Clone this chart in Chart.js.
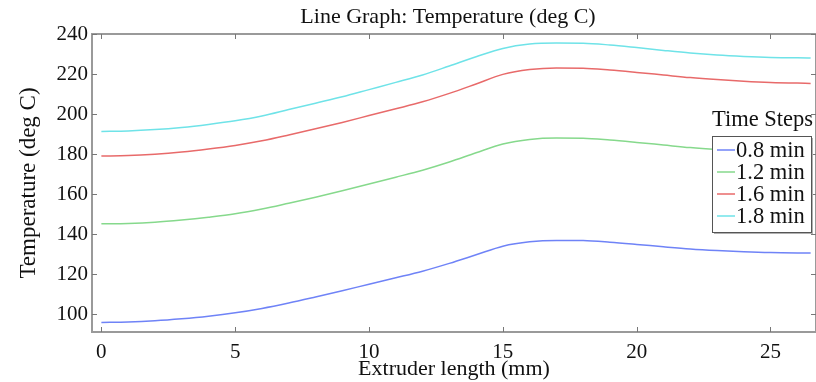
<!DOCTYPE html>
<html>
<head>
<meta charset="utf-8">
<script src="https://cdn.jsdelivr.net/npm/chart.js@4/dist/chart.umd.min.js"></script>
<style>
  html, body { margin: 0; padding: 0; background: #fff; overflow: hidden; }
  #wrap { width: 816px; height: 382px; position: relative; }
</style>
</head>
<body>
<div id="wrap"><canvas id="c" width="816" height="382"></canvas></div>
<script>
// ---- data ----
const chartTitle = 'Line Graph: Temperature (deg C)';
const xTitle = 'Extruder length (mm)';
const yTitle = 'Temperature (deg C)';
const legendTitle = 'Time Steps';
const seriesLabels = ['0.8 min', '1.2 min', '1.6 min', '1.8 min'];
const seriesColors = ['#6f83f7', '#86d98c', '#e86a6a', '#6fe3e8'];

const extruderLength = [0, 1, 2, 3, 4, 5, 6, 7, 8, 9, 10, 11, 12, 13, 14, 15, 16, 17, 18, 19, 20, 21, 22, 23, 24, 25, 26.5];
const temp08 = [95.8, 96.0, 96.6, 97.6, 98.9, 100.6, 102.8, 105.5, 108.5, 111.6, 114.9, 118.1, 121.4, 125.3, 129.6, 133.9, 136.1, 136.8, 136.7, 135.9, 134.8, 133.6, 132.5, 131.7, 131.1, 130.7, 130.5];
const temp12 = [145.1, 145.3, 145.9, 147.0, 148.4, 150.1, 152.5, 155.4, 158.4, 161.6, 165.0, 168.4, 171.9, 176.0, 180.6, 185.0, 187.3, 188.0, 187.9, 187.0, 185.8, 184.5, 183.2, 182.2, 181.4, 180.9, 180.5];
const temp16 = [179.0, 179.2, 179.9, 181.0, 182.5, 184.3, 186.6, 189.5, 192.6, 195.8, 199.2, 202.6, 206.1, 210.3, 215.0, 219.8, 222.2, 223.0, 222.9, 222.0, 220.8, 219.5, 218.2, 217.2, 216.4, 215.8, 215.3];
const temp18 = [191.3, 191.5, 192.2, 193.3, 194.8, 196.6, 199.0, 202.2, 205.4, 208.6, 212.2, 215.8, 219.5, 224.0, 228.6, 232.8, 235.0, 235.5, 235.4, 234.5, 233.2, 231.8, 230.5, 229.5, 228.8, 228.3, 228.0];
const seriesValues = [temp08, temp12, temp16, temp18];

const xTicks = [0, 5, 10, 15, 20, 25];
const yTicks = [100, 120, 140, 160, 180, 200, 220, 240];

const SERIF = '"Liberation Serif", "Times New Roman", serif';
const FRAME = '#9a9a9a';

const datasets = seriesLabels.map((lab, i) => ({
  label: lab,
  data: extruderLength.map((x, j) => ({ x: x, y: seriesValues[i][j] })),
  borderColor: seriesColors[i],
  backgroundColor: seriesColors[i],
  borderWidth: 1.5,
  pointRadius: 0,
  fill: false,
  cubicInterpolationMode: 'monotone'
}));

// frame with inward tick marks (like MATLAB axes)
const framePlugin = {
  id: 'frame',
  afterDraw(chart) {
    const ctx = chart.ctx, a = chart.chartArea;
    const xs = chart.scales.x, ys = chart.scales.y;
    ctx.save();
    ctx.strokeStyle = FRAME;
    ctx.lineWidth = 2;
    ctx.strokeRect(a.left, a.top, a.right - a.left, a.bottom - a.top);
    ctx.lineWidth = 1;
    ctx.strokeStyle = '#777';
    const tl = 5;
    xTicks.forEach(v => {
      const p = Math.round(xs.getPixelForValue(v)) + 0.5;
      ctx.beginPath();
      ctx.moveTo(p, a.bottom); ctx.lineTo(p, a.bottom - tl);
      ctx.moveTo(p, a.top); ctx.lineTo(p, a.top + tl);
      ctx.stroke();
    });
    yTicks.forEach(v => {
      const p = Math.round(ys.getPixelForValue(v)) + 0.5;
      ctx.beginPath();
      ctx.moveTo(a.left, p); ctx.lineTo(a.left + tl, p);
      ctx.moveTo(a.right, p); ctx.lineTo(a.right - tl, p);
      ctx.stroke();
    });
    ctx.restore();
  }
};

// title centred over the plot area
const titlePlugin = {
  id: 'plotTitle',
  afterDraw(chart) {
    const ctx = chart.ctx, a = chart.chartArea;
    ctx.save();
    ctx.font = '22px ' + SERIF;
    ctx.fillStyle = '#111';
    ctx.textAlign = 'center';
    ctx.textBaseline = 'middle';
    ctx.fillText(chartTitle, (a.left + a.right) / 2 - 6, 17.5);
    ctx.restore();
  }
};

// boxed legend with a title above it, drawn inside the plot area
const legendPlugin = {
  id: 'boxLegend',
  afterDraw(chart) {
    const ctx = chart.ctx;
    const bx = 712, by = 136, bw = 99, bh = 96;
    ctx.save();
    ctx.font = '22.5px ' + SERIF;
    ctx.fillStyle = '#111';
    ctx.textAlign = 'center';
    ctx.textBaseline = 'middle';
    ctx.fillText(legendTitle, bx + bw / 2 + 1, by - 16);
    // shadow
    ctx.fillStyle = '#b0b0b0';
    ctx.fillRect(bx + 2, by + 2, bw, bh);
    ctx.fillStyle = '#fff';
    ctx.fillRect(bx, by, bw, bh);
    ctx.strokeStyle = '#555';
    ctx.lineWidth = 1;
    ctx.strokeRect(bx + 0.5, by + 0.5, bw, bh);
    chart.data.datasets.forEach((ds, i) => {
      const y = by + 14 + i * 22;
      ctx.strokeStyle = ds.borderColor;
      ctx.lineWidth = 1.5;
      ctx.beginPath();
      ctx.moveTo(bx + 5, y); ctx.lineTo(bx + 23, y);
      ctx.stroke();
      ctx.fillStyle = '#111';
      ctx.textAlign = 'left';
      ctx.fillText(ds.label, bx + 24, y + 1);
    });
    ctx.restore();
  }
};

new Chart(document.getElementById('c'), {
  type: 'line',
  data: { datasets: datasets },
  plugins: [framePlugin, titlePlugin, legendPlugin],
  options: {
    responsive: false,
    animation: false,
    devicePixelRatio: 1,
    layout: { padding: { top: 34, right: 0, left: 0, bottom: 0 } },
    plugins: {
      legend: { display: false },
      title: { display: false },
      tooltip: { enabled: false }
    },
    scales: {
      x: {
        type: 'linear',
        min: -0.35,
        max: 26.7,
        afterBuildTicks(scale) { scale.ticks = xTicks.map(v => ({ value: v })); },
        afterFit(scale) { scale.height = 50; },
        grid: { display: false, drawTicks: false },
        border: { display: false },
        ticks: {
          font: { family: SERIF, size: 21 },
          color: '#111',
          padding: 8,
          maxRotation: 0
        },
        title: {
          display: true,
          text: xTitle,
          font: { family: SERIF, size: 22 },
          color: '#111',
          padding: { top: -7, bottom: 0 }
        }
      },
      y: {
        type: 'linear',
        min: 91,
        max: 240,
        afterBuildTicks(scale) { scale.ticks = yTicks.map(v => ({ value: v })); },
        afterFit(scale) { scale.width = 92; },
        grid: { display: false, drawTicks: false },
        border: { display: false },
        ticks: {
          font: { family: SERIF, size: 21 },
          color: '#111',
          padding: 4
        },
        title: {
          display: true,
          text: yTitle,
          font: { family: SERIF, size: 23 },
          color: '#111',
          padding: { top: 15, bottom: 0 }
        }
      }
    }
  }
});
</script>
</body>
</html>
